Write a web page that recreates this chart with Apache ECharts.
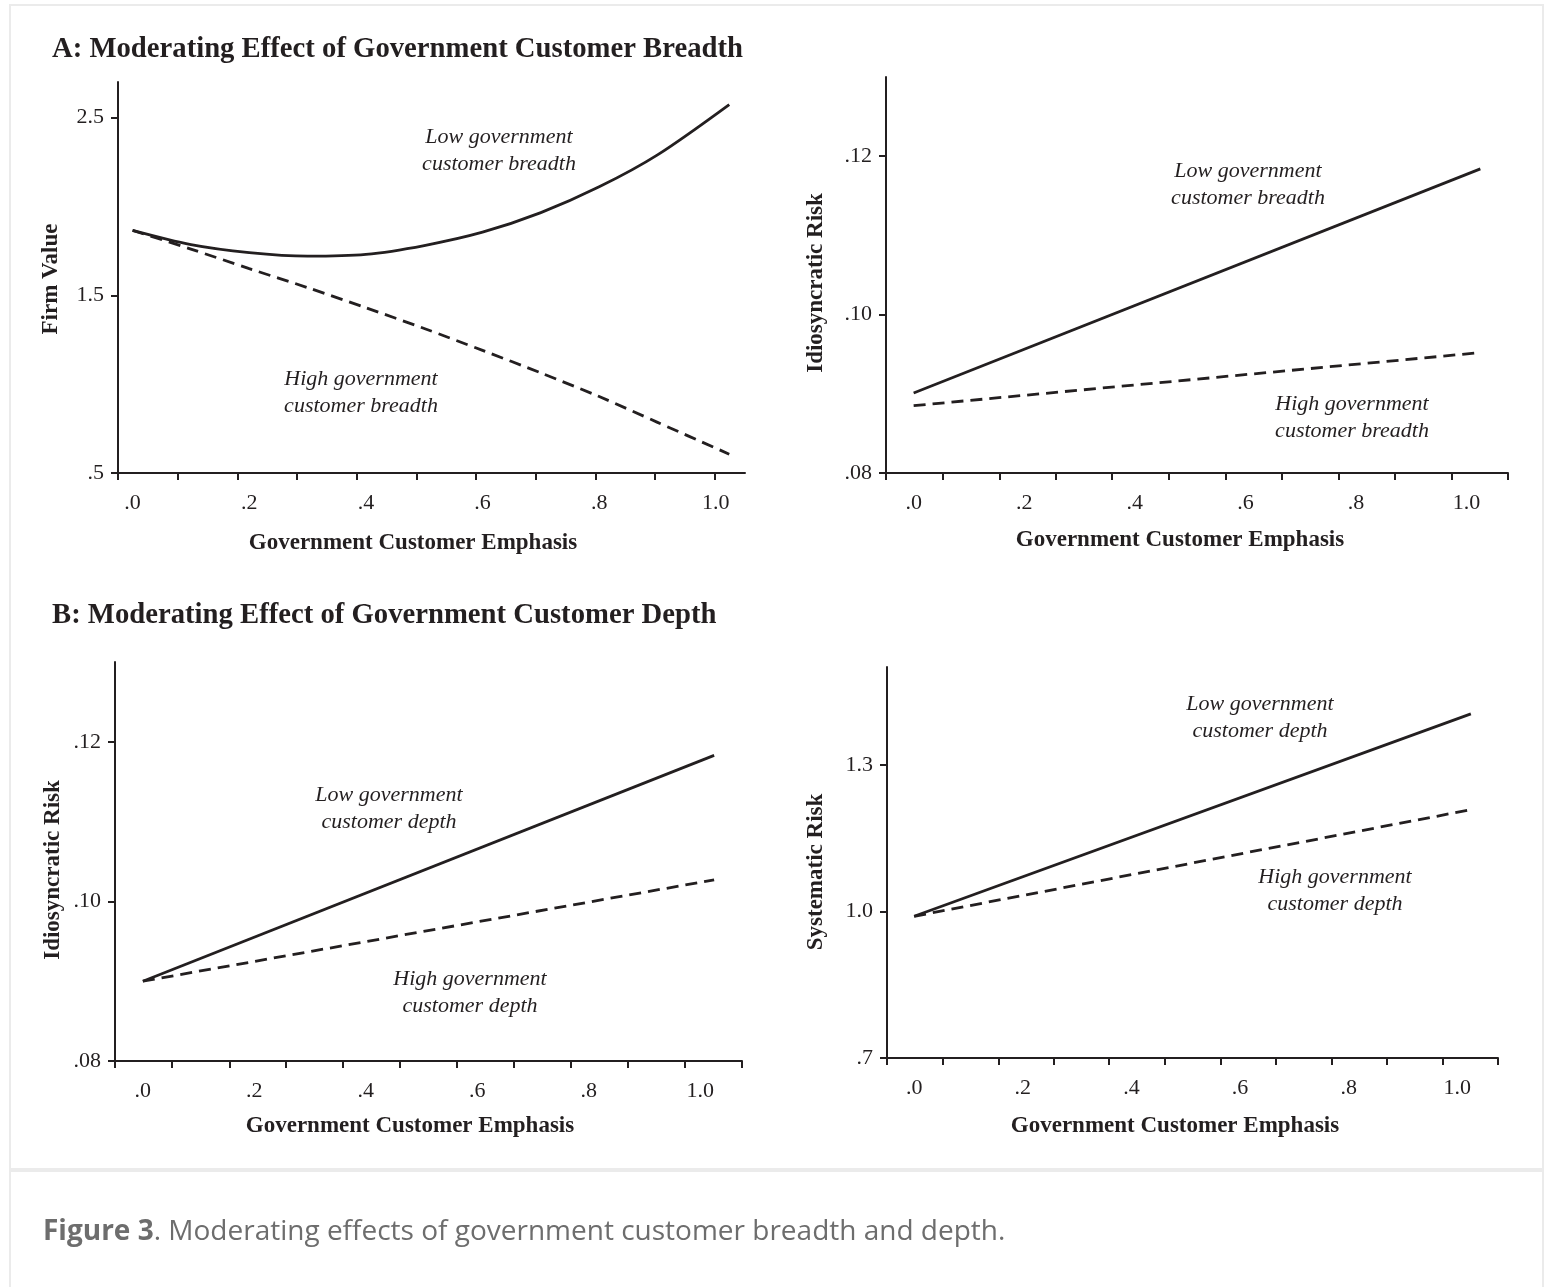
<!DOCTYPE html>
<html>
<head>
<meta charset="utf-8">
<title>Figure 3</title>
<script src="https://cdn.jsdelivr.net/npm/echarts@6/dist/echarts.min.js"></script>
<style>
  html, body { margin: 0; padding: 0; background: #ffffff; }
  #chart { width: 1546px; height: 1287px; }
</style>
</head>
<body>
<div id="chart"></div>
<script>
// Government customer emphasis (x) for the curved firm-value panel
const emphasisCurve = [0, 0.1, 0.2, 0.3, 0.4, 0.5, 0.6, 0.7, 0.8, 0.9, 1.023];
// Endpoints of the linear panels
const emphasisLine = [0, 1.025];

// Panel A (breadth): firm value
const firmValueLowBreadth  = [1.865, 1.785, 1.740, 1.720, 1.730, 1.780, 1.855, 1.965, 2.110, 2.290, 2.573];
const firmValueHighBreadth = [1.865, 1.760, 1.650, 1.543, 1.430, 1.313, 1.190, 1.063, 0.930, 0.785, 0.606];
// Panel A (breadth): idiosyncratic risk
const idioRiskLowBreadth  = [0.0901, 0.1184];
const idioRiskHighBreadth = [0.0885, 0.0952];
// Panel B (depth): idiosyncratic risk
const idioRiskLowDepth  = [0.0900, 0.1183];
const idioRiskHighDepth = [0.0900, 0.1027];
// Panel B (depth): systematic risk
const sysRiskLowDepth  = [0.990, 1.404];
const sysRiskHighDepth = [0.990, 1.208];

// Tick labels
const xLabelValues = [0, 0.2, 0.4, 0.6, 0.8, 1.0];
const firmValueTicks = [0.5, 1.5, 2.5];
const idioRiskTicks = [0.08, 0.10, 0.12];
const sysRiskTicks = [0.7, 1.0, 1.3];
// Tick-mark positions along the emphasis axes
const xTickMarksA1 = [-0.025, 0.077, 0.180, 0.282, 0.384, 0.487, 0.589, 0.691, 0.794, 0.896, 0.998];
const xTickMarksOther = [-0.05, 0.052, 0.155, 0.257, 0.359, 0.461, 0.564, 0.666, 0.768, 0.870, 0.973, 1.075];

const INK = '#231f20';
const SERIF = '"Liberation Serif", "Times New Roman", serif';

function dropLeadingZero(v, digits) {
  return v.toFixed(digits).replace(/^0\./, '.');
}

function pairs(xs, ys) {
  return xs.map((x, i) => [x, ys[i]]);
}

const grids = [
  { left: 118, top: 82,  width: 627, height: 391 },
  { left: 886, top: 77,  width: 622, height: 396 },
  { left: 115, top: 662, width: 627, height: 399 },
  { left: 887, top: 667, width: 611, height: 391 }
];

function makeXAxis(gridIndex, min, max, tickMarks) {
  return {
    type: 'value', gridIndex, min, max,
    axisLine: { show: true, onZero: false, lineStyle: { color: INK, width: 2 } },
    axisTick: { show: true, customValues: tickMarks, length: 7, inside: false,
                lineStyle: { color: INK, width: 2 } },
    axisLabel: { show: true, customValues: xLabelValues, margin: 19,
                 formatter: v => dropLeadingZero(v, 1),
                 color: INK, fontFamily: SERIF, fontSize: 22 },
    splitLine: { show: false }
  };
}

function makeYAxis(gridIndex, min, max, ticks, digits) {
  return {
    type: 'value', gridIndex, min, max,
    axisLine: { show: true, onZero: false, lineStyle: { color: INK, width: 2 } },
    axisTick: { show: true, customValues: ticks, length: 7, inside: false,
                lineStyle: { color: INK, width: 2 } },
    axisLabel: { show: true, customValues: ticks, margin: 14,
                 formatter: v => dropLeadingZero(v, digits),
                 color: INK, fontFamily: SERIF, fontSize: 22 },
    splitLine: { show: false }
  };
}

function lineSeries(idx, data, dashed, smooth) {
  return {
    type: 'line', xAxisIndex: idx, yAxisIndex: idx, data,
    showSymbol: false, smooth: smooth ? 0.3 : false,
    lineStyle: { color: INK, width: 2.8, type: dashed ? [12, 7] : 'solid' },
    emphasis: { disabled: true }, silent: true
  };
}

function boldText(x, y, text, size, rotate) {
  return {
    type: 'text', x, y, rotation: rotate ? Math.PI / 2 : 0, silent: true,
    style: { text, fill: INK, font: 'bold ' + size + 'px ' + SERIF,
             textAlign: rotate || size < 26 ? 'center' : 'left', textVerticalAlign: 'middle' }
  };
}

function note(x, y, text) {
  return {
    type: 'text', x, y, silent: true,
    style: { text, fill: INK, font: 'italic 22px ' + SERIF, lineHeight: 27,
             textAlign: 'center', textVerticalAlign: 'middle' }
  };
}

const chart = echarts.init(document.getElementById('chart'), null, { renderer: 'canvas' });

chart.setOption({
  animation: false,
  backgroundColor: '#ffffff',
  grid: grids,
  xAxis: [
    makeXAxis(0, -0.025, 1.05, xTickMarksA1),
    makeXAxis(1, -0.05, 1.075, xTickMarksOther),
    makeXAxis(2, -0.05, 1.075, xTickMarksOther),
    makeXAxis(3, -0.05, 1.075, xTickMarksOther)
  ],
  yAxis: [
    makeYAxis(0, 0.5, 2.7, firmValueTicks, 1),
    makeYAxis(1, 0.08, 0.13, idioRiskTicks, 2),
    makeYAxis(2, 0.08, 0.13, idioRiskTicks, 2),
    makeYAxis(3, 0.7, 1.5, sysRiskTicks, 1)
  ],
  series: [
    lineSeries(0, pairs(emphasisCurve, firmValueLowBreadth), false, true),
    lineSeries(0, pairs(emphasisCurve, firmValueHighBreadth), true, true),
    lineSeries(1, pairs(emphasisLine, idioRiskLowBreadth), false),
    lineSeries(1, pairs(emphasisLine, idioRiskHighBreadth), true),
    lineSeries(2, pairs(emphasisLine, idioRiskLowDepth), false),
    lineSeries(2, pairs(emphasisLine, idioRiskHighDepth), true),
    lineSeries(3, pairs(emphasisLine, sysRiskLowDepth), false),
    lineSeries(3, pairs(emphasisLine, sysRiskHighDepth), true)
  ],
  graphic: [
    // frame around the figure and the caption box
    { type: 'rect', silent: true, shape: { x: 10, y: 5, width: 1533, height: 1164 },
      style: { fill: 'none', stroke: '#ebebeb', lineWidth: 2 } },
    { type: 'rect', silent: true, shape: { x: 10, y: 1171, width: 1533, height: 140 },
      style: { fill: 'none', stroke: '#ebebeb', lineWidth: 2 } },

    // panel headings
    boldText(52, 50, 'A: Moderating Effect of Government Customer Breadth', 28.7),
    boldText(52, 616, 'B: Moderating Effect of Government Customer Depth', 28.7),

    // axis titles
    boldText(413, 543, 'Government Customer Emphasis', 23),
    boldText(1180, 540, 'Government Customer Emphasis', 23),
    boldText(410, 1126, 'Government Customer Emphasis', 23),
    boldText(1175, 1126, 'Government Customer Emphasis', 23),
    boldText(51, 279, 'Firm Value', 23, true),
    boldText(816, 283, 'Idiosyncratic Risk', 23, true),
    boldText(53, 870, 'Idiosyncratic Risk', 23, true),
    boldText(816, 872, 'Systematic Risk', 23, true),

    // line labels
    note(499, 151, 'Low government\ncustomer breadth'),
    note(361, 393, 'High government\ncustomer breadth'),
    note(1248, 185, 'Low government\ncustomer breadth'),
    note(1352, 418, 'High government\ncustomer breadth'),
    note(389, 809, 'Low government\ncustomer depth'),
    note(470, 993, 'High government\ncustomer depth'),
    note(1260, 718, 'Low government\ncustomer depth'),
    note(1335, 891, 'High government\ncustomer depth'),

    // caption
    {
      type: 'text', x: 43, y: 1232, silent: true,
      style: {
        text: '{b|Figure 3}{r|. Moderating effects of government customer breadth and depth.}',
        textVerticalAlign: 'middle',
        rich: {
          b: { fontFamily: '"Open Sans", sans-serif', fontWeight: 'bold', fontSize: 28, fill: '#6d6d6d' },
          r: { fontFamily: '"Open Sans", sans-serif', fontSize: 28, fill: '#6d6d6d' }
        }
      }
    }
  ]
});
</script>
</body>
</html>
